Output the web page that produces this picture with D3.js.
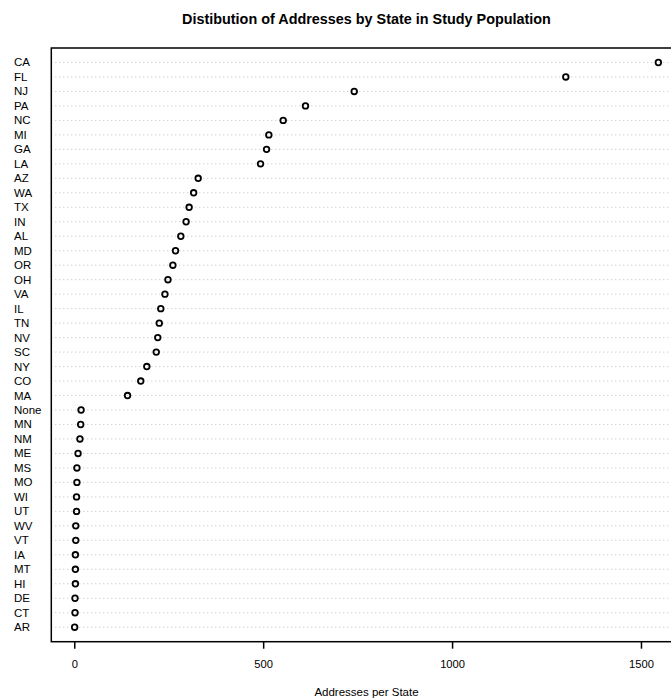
<!DOCTYPE html>
<html>
<head>
<meta charset="utf-8">
<script src="https://cdn.jsdelivr.net/npm/d3@7"></script>
<style>
  html, body { margin: 0; padding: 0; background: #fff; overflow: hidden; }
  svg { display: block; font-family: "Liberation Sans", Arial, sans-serif; }
</style>
</head>
<body>
<svg id="chart" width="671" height="700"></svg>
<script>
// Data (top to bottom as shown)
const states = ["CA","FL","NJ","PA","NC","MI","GA","LA","AZ","WA","TX","IN","AL","MD","OR","OH","VA","IL","TN","NV","SC","NY","CO","MA","None","MN","NM","ME","MS","MO","WI","UT","WV","VT","IA","MT","HI","DE","CT","AR"];
const addresses = [1546,1301,741,612,553,515,509,493,328,316,304,296,282,268,261,248,240,229,225,221,217,192,176,141,18,17,15,10,7,7,6,6,4,4,3,3,3,2,2,1];
const xTicks = [0, 500, 1000, 1500];
const titleText = "Distibution of Addresses by State in Study Population";
const xLabel = "Addresses per State";

(function () {
const svg = d3.select("#chart");
const pLeft = 51.3, pRight = 681.7, pTop = 48, pBottom = 641.7;
const n = states.length;

const xmin = d3.min(addresses), xmax = d3.max(addresses);
const pad = 0.04 * (xmax - xmin);
const x = d3.scaleLinear().domain([xmin - pad, xmax + pad]).range([pLeft, pRight]);
const y = d3.scaleLinear().domain([0, n + 1]).range([pBottom, pTop]);

// Title
svg.append("text")
  .attr("x", (pLeft + pRight) / 2).attr("y", 24)
  .attr("text-anchor", "middle")
  .attr("font-weight", "bold").attr("font-size", 14.4)
  .text(titleText);

const rows = states.map((s, i) => ({ s, v: addresses[i], pos: n - i }));

// Dotted guide lines
svg.append("g").selectAll("line").data(rows).join("line")
  .attr("x1", pLeft).attr("x2", pRight)
  .attr("y1", d => y(d.pos)).attr("y2", d => y(d.pos))
  .attr("stroke", "#bebebe").attr("stroke-width", 1)
  .attr("stroke-dasharray", "1,3");

// Labels
svg.append("g").selectAll("text").data(rows).join("text")
  .attr("x", 14).attr("y", d => y(d.pos) + 4)
  .attr("font-size", 11.5).attr("fill", "#000")
  .text(d => d.s);

// Points
svg.append("g").selectAll("circle").data(rows).join("circle")
  .attr("cx", d => x(d.v)).attr("cy", d => y(d.pos))
  .attr("r", 2.8).attr("fill", "none")
  .attr("stroke", "#000").attr("stroke-width", 1.8);

// Box
svg.append("rect")
  .attr("x", pLeft).attr("y", pTop)
  .attr("width", pRight - pLeft).attr("height", pBottom - pTop)
  .attr("fill", "none").attr("stroke", "#000").attr("stroke-width", 1.5);

// X axis
const axis = d3.axisBottom(x).tickValues(xTicks).tickSize(7).tickPadding(11).tickFormat(d3.format("d"));
const gx = svg.append("g").attr("transform", `translate(0,${pBottom})`).call(axis);
gx.select(".domain").remove();
gx.selectAll(".tick line").attr("stroke", "#000").attr("stroke-width", 1.5);
gx.selectAll(".tick text").attr("font-size", 11.2).attr("fill", "#000")
  .attr("font-family", "\"Liberation Sans\", Arial, sans-serif");

// X axis title
svg.append("text")
  .attr("x", (pLeft + pRight) / 2).attr("y", 696)
  .attr("text-anchor", "middle").attr("font-size", 11.5)
  .text(xLabel);
})();
</script>
</body>
</html>
